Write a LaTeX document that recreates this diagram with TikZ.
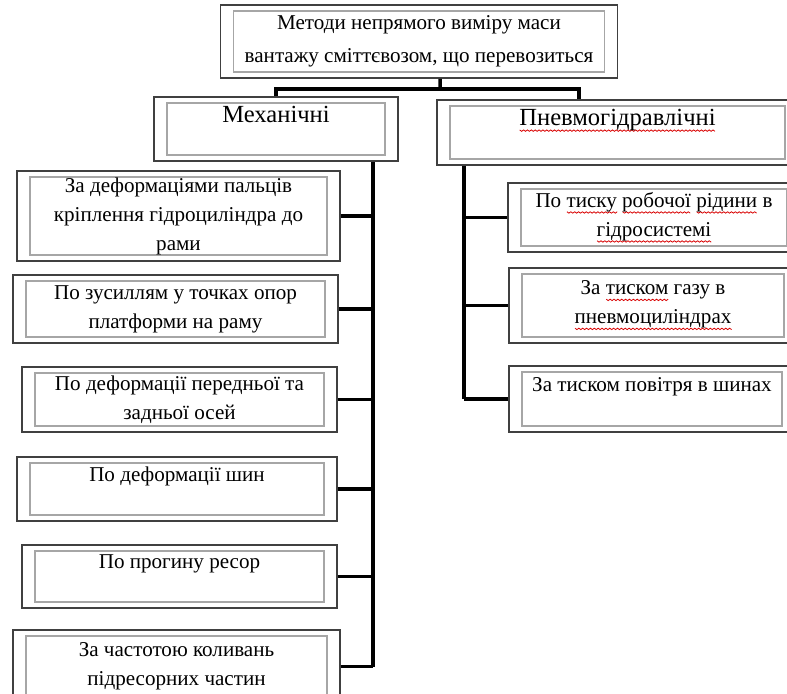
\documentclass[tikz,border=0pt]{standalone}
\usepackage{fontspec}
\setmainfont{Liberation Serif}
\usepackage{xcolor}
\usepackage{tikz}
\usetikzlibrary{positioning, calc}
\newdimen\wavewd \newdimen\wavepos \newcount\wavecnt
\newcommand\spellwave[1]{\leavevmode\setbox0=\hbox{#1}\wavewd=\wd0\relax
    \rlap{\begin{pgfinterruptpicture}\begin{pgfpicture}\pgfsetbaseline{0pt}%
        \pgfsetlinewidth{0.45pt}\pgfsetstrokecolor{red!85!black}%
        \pgfpathmoveto{\pgfpoint{0pt}{-2.4pt}}\wavepos=0pt\relax\wavecnt=0\relax
        \advance\wavewd by -1.1pt\relax
        \loop\ifdim\wavepos<\wavewd\advance\wavepos by 1.1pt\relax\advance\wavecnt by 1\relax
            \ifodd\wavecnt\pgfpathlineto{\pgfpoint{\wavepos}{-3.2pt}}\else\pgfpathlineto{\pgfpoint{\wavepos}{-2.4pt}}\fi
        \repeat
        \pgfusepath{stroke}%
    \end{pgfpicture}\end{pgfinterruptpicture}}\box0\relax}
\tikzset{
    frame_box/.style={
        rectangle, draw=black!75, line width=1.1pt, fill=white, align=center, inner sep=0pt,
        path picture={\draw[black!35, line width=0.6pt]
            ([shift={(0.26cm,-0.12cm)}]path picture bounding box.north west) rectangle
            ([shift={(-0.26cm,0.12cm)}]path picture bounding box.south east);}
    },
    title_box/.style={frame_box, font=\fontsize{12}{19}\selectfont},
    group_box/.style={frame_box, font=\fontsize{14}{17}\selectfont},
    method_box/.style={frame_box, font=\fontsize{12}{16.5}\selectfont},
    link/.style={line width=2pt, draw=black}
}

\begin{document}
\begin{tikzpicture}
    \useasboundingbox (0,0) rectangle (15.74,-13.86);

    % Заголовок
    \node[title_box, minimum width=7.94cm, minimum height=1.46cm] (title) at (8.38, -0.83)
        {Методи непрямого виміру маси\\вантажу сміттєвозом, що перевозиться};

    % Групи
    \node[group_box, minimum width=4.88cm, minimum height=1.28cm] (mech) at (5.52, -2.58) {Механічні\\~};
    \node[group_box, minimum width=7.22cm, minimum height=1.30cm] (pneu) at (12.35, -2.65) {\spellwave{Пневмогідравлічні}\\~};

    % Механічні методи
    \node[method_box, minimum width=6.46cm, minimum height=1.80cm] (m1) at (3.57, -4.32)
        {За деформаціями пальців\\кріплення гідроциліндра до\\рами};
    \node[method_box, minimum width=6.50cm, minimum height=1.36cm] (m2) at (3.51, -6.18)
        {По зусиллям у точках опор\\платформи на раму};
    \node[method_box, minimum width=6.30cm, minimum height=1.30cm] (m3) at (3.59, -7.99)
        {По деформації передньої та\\задньої осей};
    \node[method_box, minimum width=6.40cm, minimum height=1.28cm] (m4) at (3.54, -9.78)
        {По деформації шин\\~};
    \node[method_box, minimum width=6.30cm, minimum height=1.26cm] (m5) at (3.59, -11.53)
        {По прогину ресор\\~};
    \node[method_box, minimum width=6.54cm, minimum height=1.46cm] (m6) at (3.53, -13.33)
        {За частотою коливань\\підресорних частин};

    % Пневмогідравлічні методи
    \node[method_box, minimum width=5.84cm, minimum height=1.38cm] (p1) at (13.08, -4.35)
        {По \spellwave{тиску} \spellwave{робочої} \spellwave{рідини} в\\\spellwave{гідросистемі}};
    \node[method_box, minimum width=5.76cm, minimum height=1.50cm] (p2) at (13.06, -6.11)
        {За \spellwave{тиском} газу в\\\spellwave{пневмоциліндрах}};
    \node[method_box, minimum width=5.72cm, minimum height=1.32cm] (p3) at (13.04, -7.98)
        {За тиском повітря в шинах\\~};

    % Зв'язки
    \coordinate (split) at ($(title.south)+(0.42,-0.2)$);
    \coordinate (mech_in) at (mech.north);
    \coordinate (pneu_in) at ([xshift=2.86cm]pneu.north west);
    \draw[link] ([xshift=0.42cm]title.south) -- (split);
    \draw[link] (mech_in) |- (split) -| (pneu_in);

    \coordinate (mech_out) at ([xshift=-0.52cm]mech.south east);
    \draw[link] (mech_out) -- (mech_out |- m6.east);
    \foreach \m in {m1,m2,m3,m4,m5,m6}
        \draw[link] (\m.east) -- (\m.east -| mech_out);

    \coordinate (pneu_out) at ([xshift=0.56cm]pneu.south west);
    \draw[link] (pneu_out) -- (pneu_out |- p3.west);
    \foreach \p in {p1,p2,p3}
        \draw[link] (\p.west) -- (\p.west -| pneu_out);
\end{tikzpicture}
\end{document}
